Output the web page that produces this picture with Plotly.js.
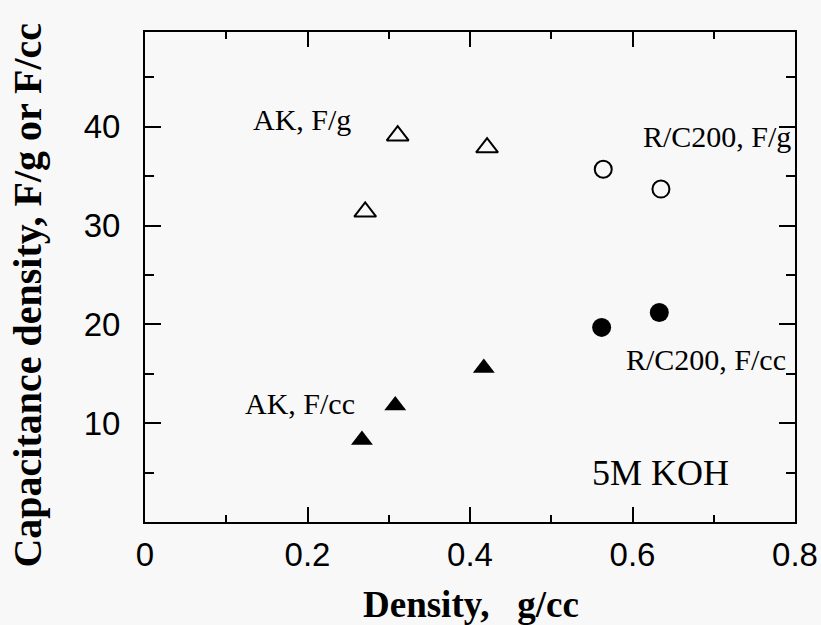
<!DOCTYPE html>
<html>
<head>
<meta charset="utf-8">
<script src="https://cdn.plot.ly/plotly-3.0.1.min.js"></script>
<style>html,body{margin:0;padding:0;background:#f8f8f8;}</style>
</head>
<body>
<div id="chart" style="width:821px;height:625px;"></div>
<script>
// Data
var akDensity = [0.271, 0.311, 0.421];
var akFperG = [31.4, 39.1, 37.9];
var akDensityCc = [0.267, 0.308, 0.417];
var akFperCc = [8.3, 11.8, 15.6];
var rcDensity = [0.564, 0.635];
var rcFperG = [35.7, 33.7];
var rcDensityCc = [0.562, 0.633];
var rcFperCc = [19.7, 21.2];

var xTickVals = [0, 0.2, 0.4, 0.6, 0.8];
var xTickText = ['0', '0.2', '0.4', '0.6', '0.8'];
var xMinorVals = [0.1, 0.3, 0.5, 0.7];
var yTickVals = [0, 10, 20, 30, 40];
var yTickText = ['', '10', '20', '30', '40'];
var yMinorVals = [5, 15, 25, 35, 45];

var labels = [
  {text: 'AK, F/g', x: 0.193, y: 40.7, xanchor: 'center', size: 30},
  {text: 'R/C200, F/g', x: 0.798, y: 39.0, xanchor: 'right', size: 30},
  {text: 'AK, F/cc', x: 0.191, y: 12.0, xanchor: 'center', size: 30},
  {text: 'R/C200, F/cc', x: 0.791, y: 16.4, xanchor: 'right', size: 30},
  {text: '5M KOH', x: 0.634, y: 5.0, xanchor: 'center', size: 36}
];

var serif = 'Liberation Serif, Times New Roman, serif';
var sans = 'Liberation Sans, Arial, sans-serif';

var traces = [
  {x: akDensity, y: akFperG, type: 'scatter', mode: 'markers',
   marker: {symbol: 'triangle-up-open', size: 19, color: '#000', line: {width: 2, color: '#000'}}},
  {x: akDensityCc, y: akFperCc, type: 'scatter', mode: 'markers',
   marker: {symbol: 'triangle-up', size: 19, color: '#000', line: {width: 0}}},
  {x: rcDensity, y: rcFperG, type: 'scatter', mode: 'markers',
   marker: {symbol: 'circle-open', size: 17, color: '#000', line: {width: 2, color: '#000'}}},
  {x: rcDensityCc, y: rcFperCc, type: 'scatter', mode: 'markers',
   marker: {symbol: 'circle', size: 19, color: '#000', line: {width: 0}}}
];

var annotations = labels.map(function (l) {
  return {text: l.text, x: l.x, y: l.y, xref: 'x', yref: 'y', xanchor: l.xanchor, yanchor: 'middle',
          showarrow: false, font: {family: serif, size: l.size, color: '#000'}};
});
annotations.push({text: '<b>Density,\u00a0\u00a0 g/cc</b>', xref: 'paper', yref: 'paper', x: 0.502, y: -0.168,
  xanchor: 'center', yanchor: 'middle', showarrow: false, font: {family: serif, size: 37, color: '#000'}});
annotations.push({text: '<b>Capacitance density, F/g or F/cc</b>', xref: 'paper', yref: 'paper', x: -0.18, y: 0.462,
  xanchor: 'center', yanchor: 'middle', textangle: -90, showarrow: false, font: {family: serif, size: 40, color: '#000'}});

var layout = {
  width: 821, height: 625,
  margin: {l: 145, r: 26, t: 32, b: 103},
  paper_bgcolor: '#f8f8f8', plot_bgcolor: '#f8f8f8',
  showlegend: false,
  xaxis: {
    range: [0, 0.8], tickmode: 'array', tickvals: xTickVals, ticktext: xTickText,
    ticks: 'inside', ticklen: 15, tickwidth: 2, tickcolor: '#000',
    showline: true, linewidth: 2, linecolor: '#000', mirror: 'ticks',
    showgrid: false, zeroline: false,
    tickfont: {family: sans, size: 33, color: '#000'}, ticklabelstandoff: 2,
    minor: {tickmode: 'array', tickvals: xMinorVals, ticks: 'inside', ticklen: 7, tickwidth: 2, tickcolor: '#000', showgrid: false}
  },
  yaxis: {
    range: [0, 49.6], tickmode: 'array', tickvals: yTickVals, ticktext: yTickText,
    ticks: 'inside', ticklen: 16, tickwidth: 2, tickcolor: '#000',
    showline: true, linewidth: 2, linecolor: '#000', mirror: 'ticks',
    showgrid: false, zeroline: false,
    tickfont: {family: sans, size: 33, color: '#000'}, ticklabelstandoff: 16,
    minor: {tickmode: 'array', tickvals: yMinorVals, ticks: 'inside', ticklen: 9, tickwidth: 2, tickcolor: '#000', showgrid: false}
  },
  annotations: annotations
};

Plotly.newPlot('chart', traces, layout, {displayModeBar: false, staticPlot: true});
</script>
</body>
</html>
